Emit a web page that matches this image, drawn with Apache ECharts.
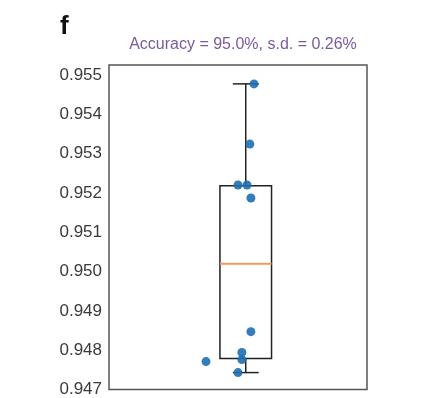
<!DOCTYPE html>
<html>
<head>
<meta charset="utf-8">
<script src="https://cdn.jsdelivr.net/npm/echarts@6/dist/echarts.min.js"></script>
<style>
  html, body { margin: 0; padding: 0; background: #fff; }
  #chart { width: 428px; height: 398px; }
</style>
</head>
<body>
<div id="chart"></div>
<script>
// accuracy of each run (x = jitter position around the box at 1)
const runX = [1.032, 1.016, 0.970, 1.005, 1.020, 1.020, 0.846, 0.985, 0.985, 0.970];
const runAcc = [0.95477, 0.95324, 0.95220, 0.95220, 0.95187, 0.94847, 0.94771, 0.94794, 0.94776, 0.94743];
// [lower whisker, Q1, median, Q3, upper whisker]
const boxStats = [0.94743, 0.94779, 0.95020, 0.95218, 0.95477];
const yTicks = [0.947, 0.948, 0.949, 0.950, 0.951, 0.952, 0.953, 0.954, 0.955];
const titleText = 'Accuracy = 95.0%, s.d. = 0.26%';

const chart = echarts.init(document.getElementById('chart'));

const font = '"Liberation Sans", Arial, sans-serif';

// box + whiskers + orange median, drawn through the axes
function renderBox(params, api) {
  const x = api.value(0);
  const lo = api.coord([x, api.value(1)]);
  const q1 = api.coord([x, api.value(2)]);
  const med = api.coord([x, api.value(3)]);
  const q3 = api.coord([x, api.value(4)]);
  const hi = api.coord([x, api.value(5)]);
  const half = api.size([0.1, 0])[0];
  const cap = half / 2;
  const line = { stroke: '#222', lineWidth: 1.5 };
  return {
    type: 'group',
    children: [
      { type: 'rect', shape: { x: q3[0] - half, y: q3[1], width: half * 2, height: q1[1] - q3[1] }, style: { fill: 'none', stroke: '#222', lineWidth: 1.5 } },
      { type: 'line', shape: { x1: hi[0], y1: hi[1], x2: q3[0], y2: q3[1] }, style: line },
      { type: 'line', shape: { x1: lo[0], y1: lo[1], x2: q1[0], y2: q1[1] }, style: line },
      { type: 'line', shape: { x1: hi[0] - cap, y1: hi[1], x2: hi[0] + cap, y2: hi[1] }, style: line },
      { type: 'line', shape: { x1: lo[0] - cap, y1: lo[1], x2: lo[0] + cap, y2: lo[1] }, style: line },
      { type: 'line', shape: { x1: med[0] - half, y1: med[1], x2: med[0] + half, y2: med[1] }, style: { stroke: '#f29a5c', lineWidth: 2 } }
    ]
  };
}

const option = {
  animation: false,
  title: [
    { text: 'f', left: 55, top: 9, textStyle: { fontFamily: font, fontSize: 26, fontWeight: 'bold', color: '#111' } },
    { text: titleText, left: 238, top: 32, textAlign: 'center', textStyle: { fontFamily: font, fontSize: 16, fontWeight: 'normal', color: '#7a5a9f' } }
  ],
  grid: {
    left: 109, right: 61, top: 65, bottom: 8,
    show: true, borderColor: '#555', borderWidth: 1.5, backgroundColor: 'transparent'
  },
  xAxis: {
    type: 'value', min: 0.47, max: 1.47,
    axisLine: { show: false }, axisTick: { show: false },
    axisLabel: { show: false }, splitLine: { show: false }
  },
  yAxis: {
    type: 'value', min: 0.947, max: 0.95525, interval: 0.001,
    axisLine: { show: false }, axisTick: { show: false }, splitLine: { show: false },
    axisLabel: {
      margin: 7, fontFamily: font, fontSize: 17, color: '#3a3a3a',
      customValues: yTicks,
      formatter: v => v.toFixed(3)
    }
  },
  series: [
    {
      type: 'custom',
      renderItem: renderBox,
      data: [[1].concat(boxStats)],
      z: 2
    },
    {
      type: 'scatter',
      symbolSize: 9,
      itemStyle: { color: '#1f6fb0', opacity: 0.9 },
      data: runX.map((x, i) => [x, runAcc[i]]),
      z: 3
    }
  ]
};

chart.setOption(option);
</script>
</body>
</html>
